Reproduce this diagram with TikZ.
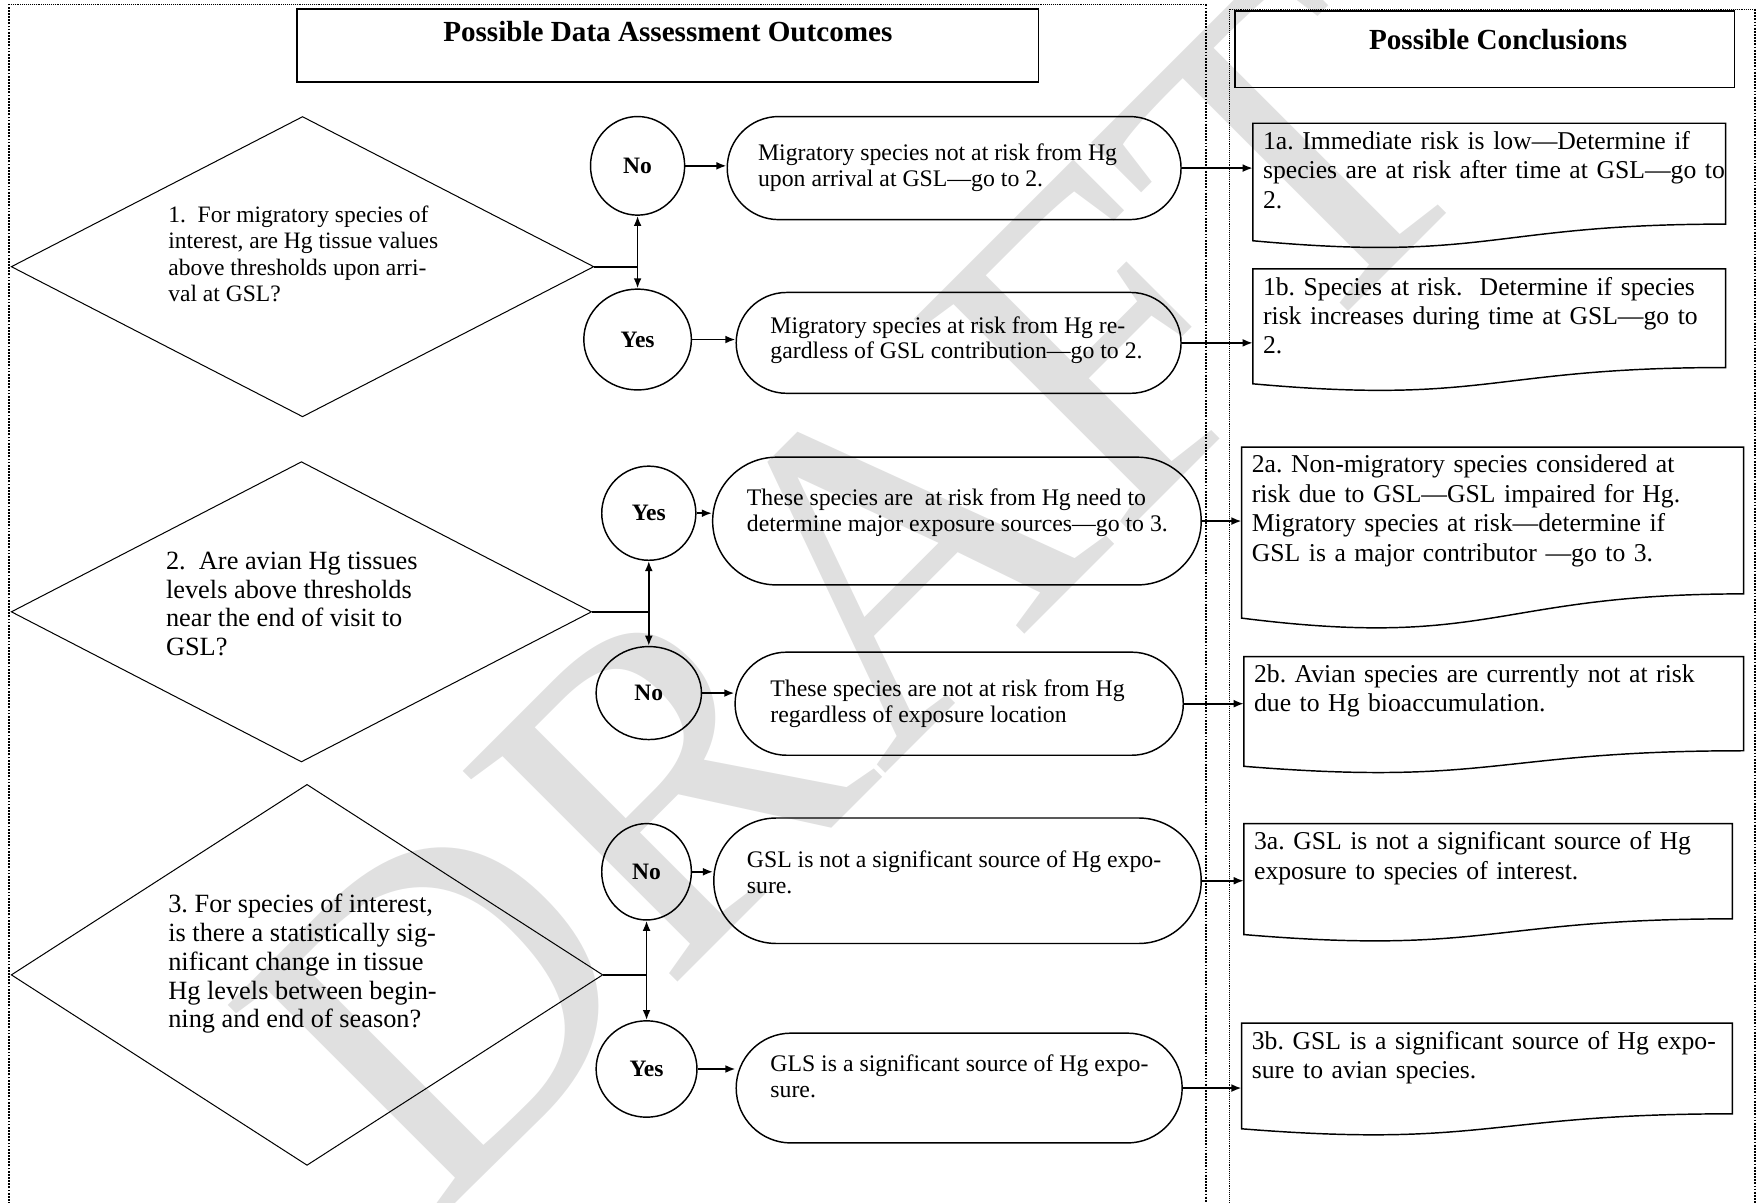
\documentclass[tikz,border=0pt]{standalone}
\usepackage{fontspec}
\setmainfont{Liberation Serif}
\usetikzlibrary{shapes.geometric, arrows.meta, calc}
\tikzset{>={Latex[length=9pt,width=7pt]}}
\def\shapelw{1.3pt}
\frenchspacing

\tikzset{
  frame/.style={line width=1.6pt, dash pattern=on 1.6pt off 1.2pt},
  thinframe/.style={line width=0.8pt, dash pattern=on 0.8pt off 0.9pt},
  headbox/.style={draw, line width=\shapelw, inner sep=0pt, font=\fontsize{26}{30}\selectfont\bfseries},
  ask/.style={diamond, draw, line width=0.9pt, inner sep=0pt},
  asktext/.style={align=left, inner sep=0pt, anchor=west},
  ans/.style={ellipse, draw, line width=\shapelw, inner sep=0pt, font=\fontsize{21}{24}\selectfont\bfseries},
  outcome/.style 2 args={draw, line width=\shapelw, minimum width=#1pt, minimum height=#2pt,
    rounded corners=0.5*#2pt, inner sep=0pt},
  outtext/.style={align=left, inner sep=0pt, anchor=west, font=\fontsize{21.2}{23}\selectfont},
  concl/.style={anchor=north west, text width=#1, inner xsep=9pt, inner ysep=7pt, align=left,
    font=\fontsize{22.9}{26.2}\selectfont},
  docline/.style={line width=\shapelw},
  link/.style={line width=1.6pt, ->},
  wmark/.style={text=black!12, font=\fontsize{410}{410}\selectfont, inner sep=0pt}
}

\begin{document}
\begin{tikzpicture}[x=1pt, y=-1pt]
\useasboundingbox (0,0) rectangle (1568,1073);

% watermark
\node[wmark, rotate=45] (wm) at (765,525) {DRAFT};

% frames
\draw[frame] (8,1080) -- (8,4);
\draw[thinframe] (8,4) -- (1076,4);
\draw[frame] (1076,4) -- (1076,1080);
\draw[thinframe] (1097,1080) -- (1097,8) -- (1566,8);
\draw[frame] (1566,8) -- (1566,1080);

\node[headbox, minimum width=662pt, minimum height=65pt, text height=29pt, text depth=36pt] (outhead) at (596,40.5) {Possible Data Assessment Outcomes};
\node[headbox, minimum width=446pt, minimum height=68pt, text height=34pt, text depth=34pt] (conhead) at (1325,44) {\hspace{24pt}Possible Conclusions};

% questions
\node[ask, minimum width=520pt, minimum height=268pt] (q1) at (270,238) {};
\node[ask, minimum width=518pt, minimum height=268pt] (q2) at (269,546) {};
\node[ask, minimum width=528pt, minimum height=340pt] (q3) at (274,870) {};

\node[asktext, font=\fontsize{21}{23.7}\selectfont] (q1txt) at (150,226.5) {1.~~For migratory species of\\interest, are Hg tissue values\\above thresholds upon arri-\\val at GSL?};
\node[asktext, font=\fontsize{23.5}{25.8}\selectfont] (q2txt) at (148,539) {2.~~Are avian Hg tissues\\levels above thresholds\\near the end of visit to\\GSL?};
\node[asktext, font=\fontsize{23.5}{25.8}\selectfont] (q3txt) at (150,860) {3. For species of interest,\\is there a statistically sig-\\nificant change in tissue\\Hg levels between begin-\\ning and end of season?};

% answers
\node[ans, minimum width=84pt, minimum height=88pt] (n1) at (569,148) {No};
\node[ans, minimum width=96pt, minimum height=90pt] (y1) at (569,303) {Yes};
\node[ans, minimum width=84pt, minimum height=84pt] (y2) at (579,458) {Yes};
\node[ans, minimum width=94pt, minimum height=83pt] (n2) at (579,618.5) {No};
\node[ans, minimum width=80pt, minimum height=86pt] (n3) at (577,778) {No};
\node[ans, minimum width=90pt, minimum height=86pt] (y3) at (577,954) {Yes};

\foreach \q/\a/\b in {q1/n1/y1, q2/y2/n2, q3/n3/y3} {
  \coordinate (j) at (\q.east -| \a);
  \draw[line width=2pt] (\q.east) -- (j);
  \draw[link] (j) -- (\a);
  \draw[link] (j) -- (\b);
}

% outcomes
\node[outcome={405}{92}] (t1n) at (851.5,150) {};
\node[outcome={397}{90}] (t1y) at (855.5,306) {};
\node[outcome={436}{114}] (t2y) at (854,465) {};
\node[outcome={400}{92}] (t2n) at (856,628) {};
\node[outcome={435}{112}] (t3n) at (854.5,786) {};
\node[outcome={398}{98}] (t3y) at (856,971) {};

\node[outtext] (t1ntxt) at ([xshift=28pt]t1n.west) {Migratory species not at risk from Hg\\upon arrival at GSL—go to 2.};
\node[outtext] (t1ytxt) at ([xshift=31pt,yshift=2.5pt]t1y.west) {Migratory species at risk from Hg re-\\gardless of GSL contribution—go to 2.};
\node[outtext] (t2ytxt) at ([xshift=31pt,yshift=7.5pt]t2y.west) {These species are~ at risk from Hg need to\\determine major exposure sources—go to 3.};
\node[outtext] (t2ntxt) at ([xshift=32pt]t2n.west) {These species are not at risk from Hg\\regardless of exposure location};
\node[outtext] (t3ntxt) at ([xshift=30pt,yshift=7.5pt]t3n.west) {GSL is not a significant source of Hg expo-\\sure.};
\node[outtext] (t3ytxt) at ([xshift=31pt,yshift=10.5pt]t3y.west) {GLS is a significant source of Hg expo-\\sure.};

% conclusions
\node[concl=440pt] (c1a) at (1118,110) {1a. Immediate risk is low—Determine if\\species are at risk after time at GSL—go to\\2.};
\node[concl=440pt] (c1b) at (1118,240) {1b. Species at risk.~ Determine if species\\risk increases during time at GSL—go to\\2.};
\node[concl=440pt] (c2a) at (1108,399) {2a. Non-migratory species considered at\\risk due to GSL—GSL impaired for Hg.\\Migratory species at risk—determine if\\GSL is a major contributor —go to 3.};
\node[concl=440pt] (c2b) at (1110,586) {2b. Avian species are currently not at risk\\due to Hg bioaccumulation.};
\node[concl=440pt] (c3a) at (1110,735) {3a. GSL is not a significant source of Hg\\exposure to species of interest.};
\node[concl=440pt] (c3b) at (1108,913) {3b. GSL is a significant source of Hg expo-\\sure to avian species.};

\foreach \n/\w/\h in {c1a/422/90, c1b/422/88, c2a/448/131, c2b/446/84, c3a/436/85, c3b/438/81}
  \draw[docline] (\n.north west) -- ++(\w,0) -- ++(0,\h)
    .. controls +(-0.5*\w,0) and +(0.5*\w,0.216*\h) .. +(-\w,0.165*\h) -- cycle;

\foreach \a/\t/\c in {n1/t1n/c1a, y1/t1y/c1b, y2/t2y/c2a, n2/t2n/c2b, n3/t3n/c3a, y3/t3y/c3b} {
  \draw[link] (\a.east) -- (\a.east -| \t.west);
  \draw[link] (\t.east) -- (\t.east -| \c.west);
}

\end{tikzpicture}
\end{document}
